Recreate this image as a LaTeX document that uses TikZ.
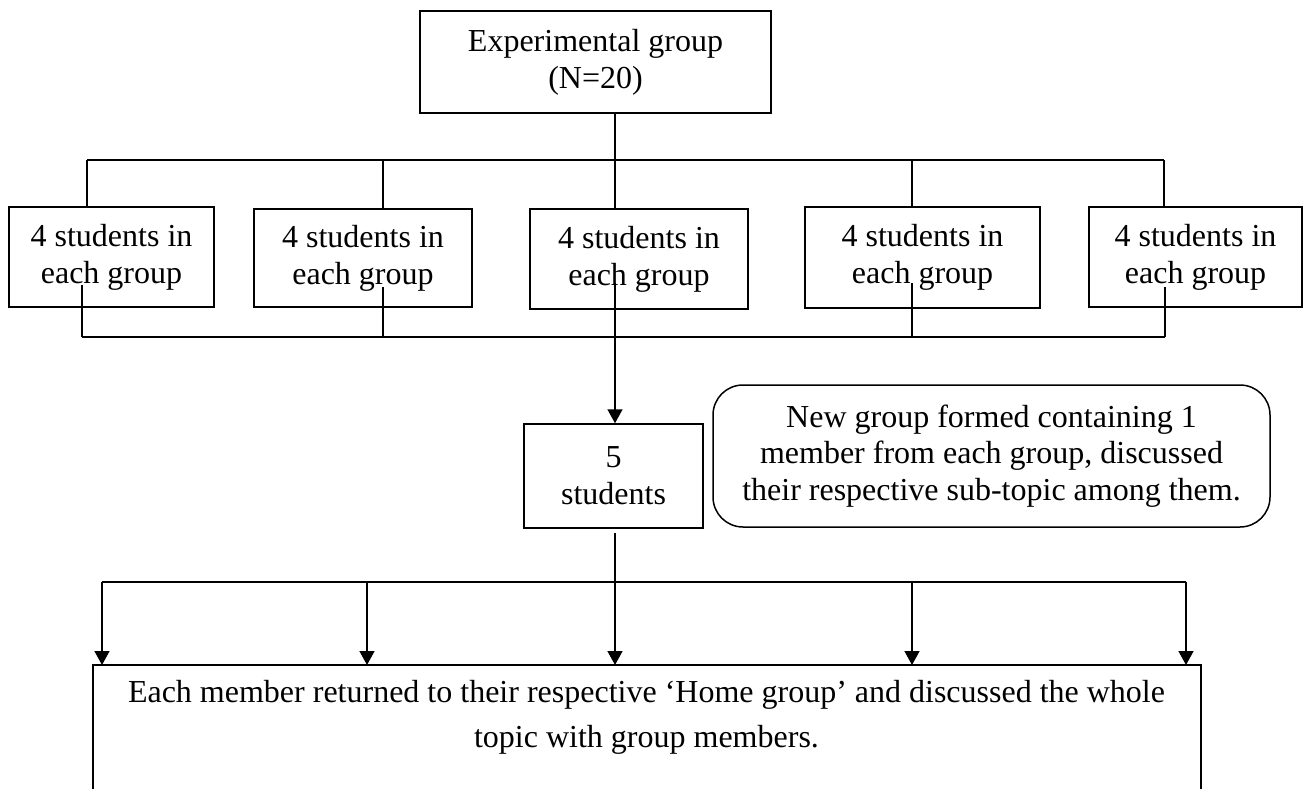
\documentclass[tikz,border=0pt]{standalone}
\usepackage{fontspec}
\setmainfont{Liberation Serif}
\usetikzlibrary{arrows.meta}
\begin{document}
\begin{tikzpicture}[x=1pt,y=-1pt,
  line width=1.5pt,
  every node/.style={font=\fontsize{32}{37}\selectfont, align=center, inner sep=0pt},
  box/.style={draw, rectangle},
  rbox/.style={draw, rectangle, rounded corners=30pt},
  conn/.style={line width=1.5pt},
  arr/.style={line width=1.5pt, -{Triangle[length=14pt,width=15pt]}}
]
\useasboundingbox (0,0) rectangle (1304,789);

% nodes
\node[box, minimum width=351pt, minimum height=102pt] (top) at (595.5,62) {Experimental group\\(N=20)};
\node[box, minimum width=205pt, minimum height=100pt] (b1) at (111.5,257) {4 students in\\each group};
\node[box, minimum width=218pt, minimum height=98pt] (b2) at (363,258) {4 students in\\each group};
\node[box, minimum width=218pt, minimum height=100pt] (b3) at (639,259) {4 students in\\each group};
\node[box, minimum width=235pt, minimum height=101pt] (b4) at (922.5,257.5) {4 students in\\each group};
\node[box, minimum width=213pt, minimum height=100pt] (b5) at (1195.5,257) {4 students in\\each group};
\node[box, minimum width=179pt, minimum height=104pt] (five) at (613.5,476) {5\\students};
\node[rbox, minimum width=557pt, minimum height=142pt, font=\fontsize{32}{36.5}\selectfont] (note) at (991.5,456)
  {New group formed containing 1\\member from each group, discussed\\their respective sub-topic among them.};

% bottom (open) box
\coordinate (bl) at (93,795);
\coordinate (btl) at (93,665);
\coordinate (btr) at (1201,665);
\coordinate (br) at (1201,795);
\draw[conn] (bl) -- (btl) -- (btr) -- (br);
\node[font=\fontsize{32}{45}\selectfont] (home) at (646.5,717.5)
  {Each member returned to their respective ‘Home group’ and discussed the whole\\topic with group members.};

% top bus
\coordinate (d1) at (87,160);
\coordinate (d2) at (383,160);
\coordinate (d3) at (615,160);
\coordinate (d4) at (912,160);
\coordinate (d5) at (1164,160);
\draw[conn] (d1) -- (d5);
\draw[conn] (top.south -| d3) -- (b3.north -| d3);
\draw[conn] (d1) -- (b1.north -| d1);
\draw[conn] (d2) -- (b2.north -| d2);
\draw[conn] (d4) -- (b4.north -| d4);
\draw[conn] (d5) -- (b5.north -| d5);

% lower bus of the group row
\coordinate (u1) at (82,337);
\coordinate (u2) at (383,337);
\coordinate (u4) at (912,337);
\coordinate (u5) at (1165,337);
\coordinate (t1) at (82,285);
\coordinate (t2) at (383,287);
\coordinate (t3) at (615,283);
\coordinate (t4) at (912,283);
\coordinate (t5) at (1165,287);
\draw[conn] (u1) -- (u5);
\draw[conn] (u1) -- (t1);
\draw[conn] (u2) -- (t2);
\draw[conn] (u4) -- (t4);
\draw[conn] (u5) -- (t5);
\draw[arr] (t3) -- (five.north -| t3);

% lower distribution
\coordinate (s0) at (615,533);
\coordinate (e1) at (102,582);
\coordinate (e2) at (367,582);
\coordinate (e3) at (615,582);
\coordinate (e4) at (912,582);
\coordinate (e5) at (1186,582);
\draw[conn] (e1) -- (e5);
\draw[arr] (s0) -- (btl -| e3);
\draw[arr] (e1) -- (btl -| e1);
\draw[arr] (e2) -- (btl -| e2);
\draw[arr] (e4) -- (btl -| e4);
\draw[arr] (e5) -- (btl -| e5);
\end{tikzpicture}
\end{document}
